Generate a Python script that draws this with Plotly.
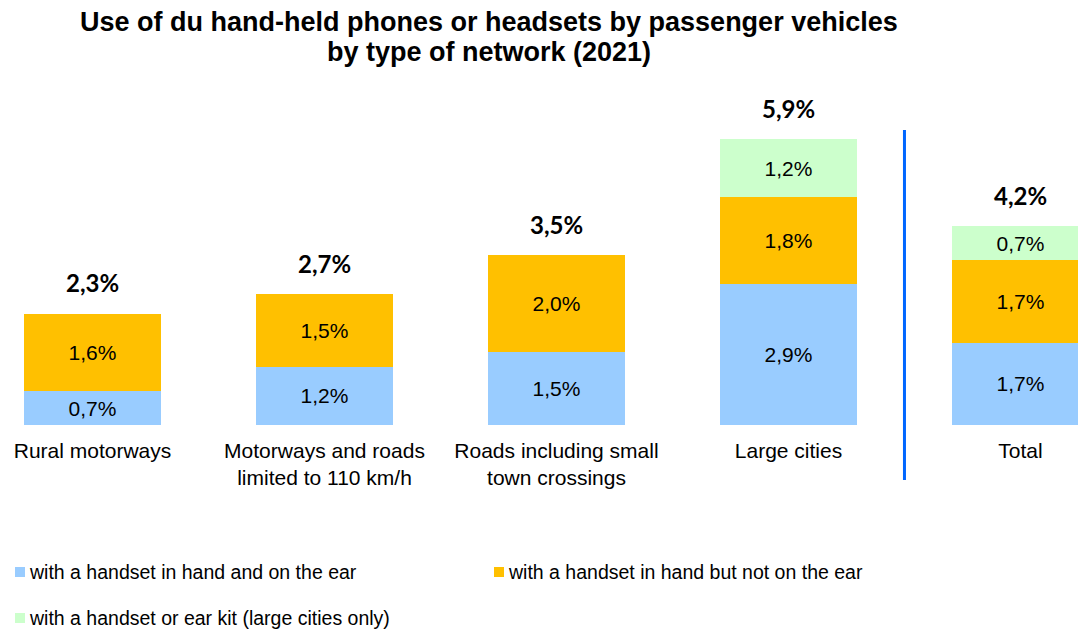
import plotly.graph_objects as go

# Categories (network type) and series values, in %
categories = [
    "Rural motorways",
    "Motorways and roads<br>limited to 110 km/h",
    "Roads including small<br>town crossings",
    "Large cities",
    "Total",
]
series_names = [
    "with a handset in hand and on the ear",
    "with a handset in hand but not on the ear",
    "with a handset or ear kit (large cities only)",
]
in_hand_on_ear = [0.7, 1.2, 1.5, 2.9, 1.7]
in_hand_not_ear = [1.6, 1.5, 2.0, 1.8, 1.7]
ear_kit = [None, None, None, 1.2, 0.7]
totals = [2.3, 2.7, 3.5, 5.9, 4.2]

title_lines = [
    "Use of du hand-held phones or headsets by passenger vehicles",
    "by type of network (2021)",
]

colors = ["#99CCFF", "#FFC000", "#CCFFCC"]
series_values = [in_hand_on_ear, in_hand_not_ear, ear_kit]

W, H = 1078, 630
M_T, M_B = 110, 205
PLOT_H = H - M_T - M_B
X_RANGE = [-0.3987, 4.248]
Y_RANGE = [0, 6.5]


def paper_y(px):
    """Convert a pixel row (from the top) to a paper y coordinate."""
    return (H - M_B - px) / PLOT_H


fig = go.Figure()
for name, vals, col in zip(series_names, series_values, colors):
    fig.add_trace(go.Bar(
        x=categories,
        y=vals,
        name=name,
        marker=dict(color=col, line=dict(width=0)),
        width=0.59,
        texttemplate="%{y:.1f}%",
        textposition="inside",
        insidetextanchor="middle",
        textangle=0,
        insidetextfont=dict(family="Liberation Sans, Arial, sans-serif", size=21, color="#000000"),
        showlegend=False,
        hoverinfo="skip",
    ))

# Bold totals above each stack
for cat, tot, a, b, c in zip(categories, totals, in_hand_on_ear, in_hand_not_ear, ear_kit):
    stack = a + b + (c or 0)
    fig.add_annotation(
        x=cat, y=stack, xref="x", yref="y",
        text="<b>" + f"{tot:.1f}".replace(".", ",") + "%</b>",
        showarrow=False, yanchor="middle", yshift=31,
        font=dict(family="Lato, Calibri, sans-serif", size=24, color="#000000"),
    )

# Separator between the network types and the overall total
sep_x = (3.5 - X_RANGE[0]) / (X_RANGE[1] - X_RANGE[0])
fig.add_shape(
    type="line", xref="paper", yref="paper",
    x0=sep_x, x1=sep_x, y0=paper_y(480), y1=paper_y(130),
    line=dict(color="#0066FF", width=3),
)

# Two-line bold title
for line, py in zip(title_lines, [22, 52]):
    fig.add_annotation(
        x=489 / W, y=paper_y(py), xref="paper", yref="paper",
        text="<b>" + line + "</b>", showarrow=False,
        xanchor="center", yanchor="middle",
        font=dict(family="Liberation Sans, Arial, sans-serif", size=27, color="#000000"),
    )

# Legend: colour squares with labels, two rows
legend_items = [(15, 572), (494, 572), (15, 618)]
for (px, py), name, col in zip(legend_items, series_names, colors):
    y_c = paper_y(py)
    fig.add_shape(
        type="rect", xref="paper", yref="paper",
        x0=px / W, x1=(px + 10) / W,
        y0=y_c - 5 / PLOT_H, y1=y_c + 5 / PLOT_H,
        fillcolor=col, line=dict(width=0),
    )
    fig.add_annotation(
        x=(px + 12) / W, y=y_c, xref="paper", yref="paper",
        text=name, showarrow=False, xanchor="left", yanchor="middle",
        font=dict(family="Liberation Sans, Arial, sans-serif", size=19.5, color="#000000"),
    )

fig.update_layout(
    width=W, height=H,
    barmode="stack",
    separators=", ",
    plot_bgcolor="white", paper_bgcolor="white",
    margin=dict(l=0, r=0, t=M_T, b=M_B),
    xaxis=dict(
        type="category", range=X_RANGE,
        showgrid=False, zeroline=False, showline=False, ticks="",
        ticklabelstandoff=11,
        tickfont=dict(family="Liberation Sans, Arial, sans-serif", size=21, color="#000000"),
    ),
    yaxis=dict(range=Y_RANGE, visible=False, showgrid=False),
    uniformtext=dict(minsize=21, mode="show"),
)

fig.write_html("out.html")
